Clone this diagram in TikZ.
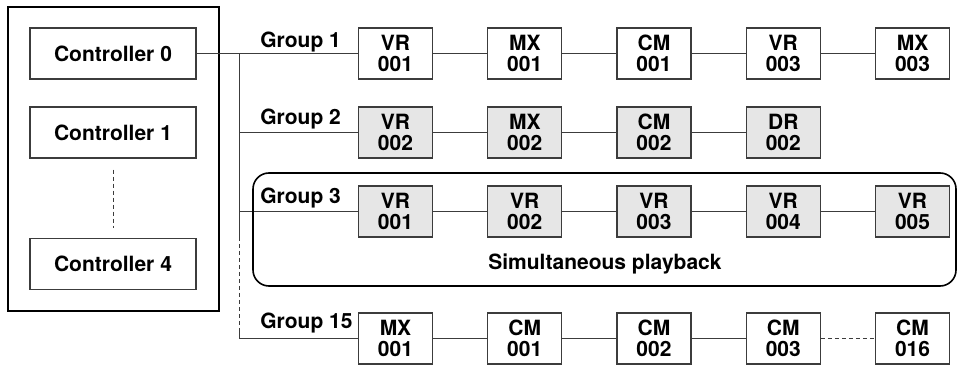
\documentclass[tikz,border=0pt]{standalone}
\usepackage{fontspec}
\setmainfont{TeX Gyre Heros}
\usetikzlibrary{positioning}
\definecolor{unitfill}{RGB}{230,230,230}
\definecolor{wire}{RGB}{60,60,60}

\tikzset{
  unit/.style={draw=wire, line width=0.6pt, minimum width=37pt, minimum height=25.5pt,
    inner sep=0pt, align=center, font=\bfseries\fontsize{10.5}{10.5}\selectfont},
  shadedunit/.style={unit, fill=unitfill},
  ctrl/.style={unit, minimum width=83pt},
  grouplabel/.style={anchor=west, inner sep=0pt, font=\bfseries\fontsize{10.5}{12}\selectfont},
  link/.style={draw=wire, line width=0.5pt},
}

\begin{document}
\begin{tikzpicture}[x=0.5pt, y=-0.5pt]
  \useasboundingbox (0,0) rectangle (957,367);

  % Controllers
  \draw[line width=1.1pt] (8,7) rectangle (219,311);
  \node[ctrl] (c0) at (113,53.5) {Controller 0};
  \node[ctrl] (c1) at (113,132.5) {Controller 1};
  \node[ctrl] (c4) at (113,264) {Controller 4};
  \draw[link, dash pattern=on 2pt off 1.5pt] ([yshift=-5.5pt]c1.south) -- ([yshift=5pt]c4.north);

  % Groups of units
  \foreach \name/\num [count=\i] in {VR/001, MX/001, CM/001, VR/003, MX/003}
    \node[unit] (ga\i) at ({395.5+129.25*(\i-1)},53.5) {\name\\\num};
  \foreach \name/\num [count=\i] in {VR/002, MX/002, CM/002, DR/002}
    \node[shadedunit] (gb\i) at ({395.5+129.25*(\i-1)},132.5) {\name\\\num};
  \foreach \name/\num [count=\i] in {VR/001, VR/002, VR/003, VR/004, VR/005}
    \node[shadedunit] (gc\i) at ({395.5+129.25*(\i-1)},211.5) {\name\\\num};
  \foreach \name/\num [count=\i] in {MX/001, CM/001, CM/002, CM/003, CM/016}
    \node[unit] (gd\i) at ({395.5+129.25*(\i-1)},338.5) {\name\\\num};

  \foreach \i/\j in {1/2, 2/3, 3/4, 4/5} {
    \draw[link] (ga\i) -- (ga\j);
    \draw[link] (gc\i) -- (gc\j);
  }
  \foreach \i/\j in {1/2, 2/3, 3/4} {
    \draw[link] (gb\i) -- (gb\j);
    \draw[link] (gd\i) -- (gd\j);
  }
  \draw[link, dash pattern=on 2pt off 1.5pt] (gd4) -- (gd5);

  \node[grouplabel] (la) at (260,42) {Group 1};
  \node[grouplabel] (lb) at (260,119) {Group 2};
  \node[grouplabel] (lc) at (260,198) {Group 3};
  \node[grouplabel] (ld) at (260,323) {Group 15};

  % Bus
  \coordinate (jb) at (239,132.5);
  \coordinate (jc) at (239,211.5);
  \coordinate (jd) at (239,338.5);
  \coordinate (busa) at (239,53.5);
  \coordinate (busb) at (239,237);
  \coordinate (busc) at (239,330);
  \draw[link] (c0) -- (ga1);
  \draw[link] (busa) -- (busb);
  \draw[link, dash pattern=on 2pt off 1.5pt] (busb) -- (busc);
  \draw[link] (busc) -- (jd);
  \draw[link] (jb) -- (gb1);
  \draw[link] (jc) -- (gc1);
  \draw[link] (jd) -- (gd1);

  % Simultaneous playback
  \draw[line width=0.8pt, rounded corners=8pt] (253,173) rectangle (956,286);
  \node[grouplabel, anchor=center] (sim) at (605,264) {Simultaneous playback};
\end{tikzpicture}
\end{document}
